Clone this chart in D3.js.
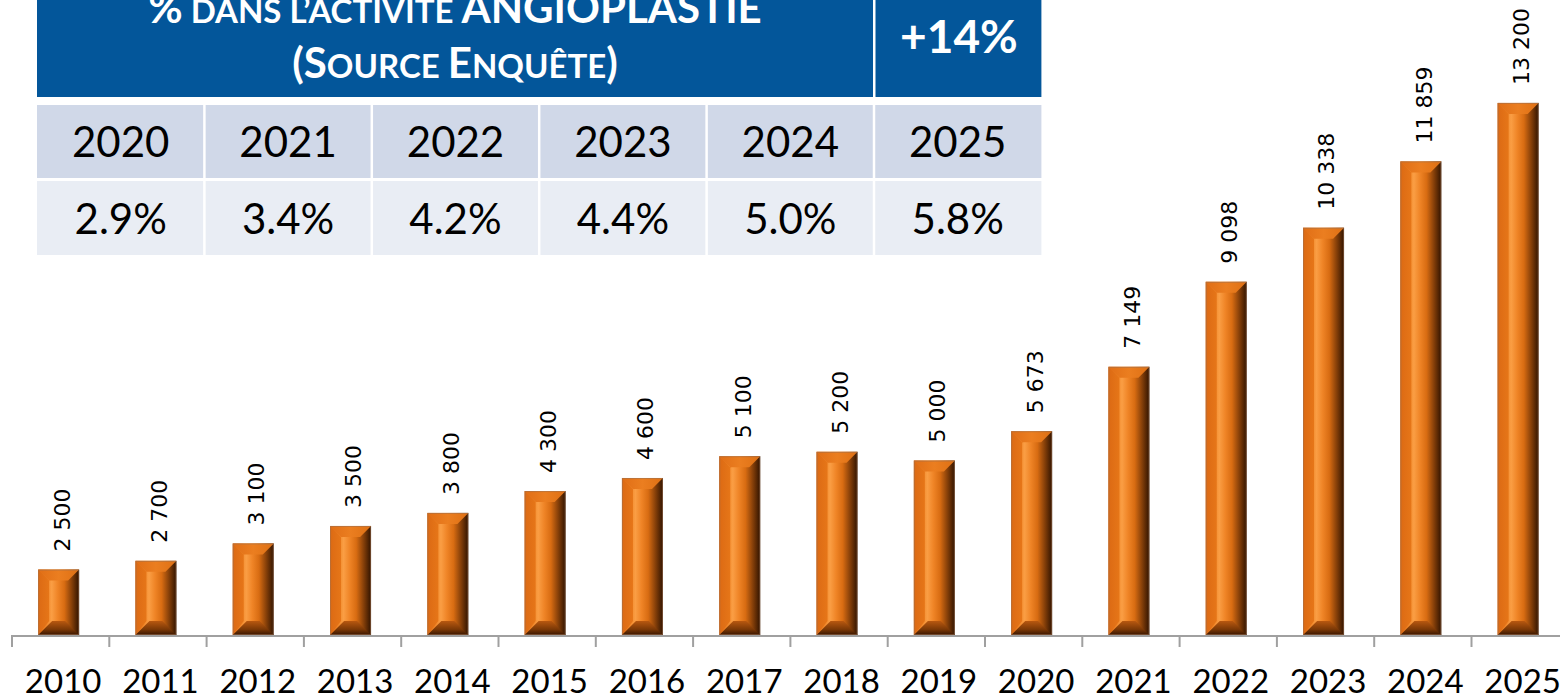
<!DOCTYPE html>
<html>
<head>
<meta charset="utf-8">
<script src="https://cdn.jsdelivr.net/npm/d3@7"></script>
<style>
  html, body { margin: 0; padding: 0; background: #ffffff; }
  svg { display: block; }
</style>
</head>
<body>
<svg id="chart" width="1560" height="700"></svg>
<script>
// ---------- DATA ----------
const years = ["2010","2011","2012","2013","2014","2015","2016","2017","2018","2019","2020","2021","2022","2023","2024","2025"];
const volumes = [2500, 2700, 3100, 3500, 3800, 4300, 4600, 5100, 5200, 5000, 5673, 7149, 9098, 10338, 11859, 13200];
const tableYears = ["2020","2021","2022","2023","2024","2025"];
const tableShares = ["2.9%","3.4%","4.2%","4.4%","5.0%","5.8%"];
const growthLabel = "+14%";
const titleLine1 = [["%", "big"], [" DANS L\u2019ACTIVIT\u00C9 ", "small"], ["ANGIOPLASTIE", "big"]];
const titleLine2 = [["(S", "big"], ["OURCE ", "small"], ["E", "big"], ["NQU\u00CATE", "small"], [")", "big"]];

// ---------- SETUP ----------
const svg = d3.select("#chart");
const fmt = d3.formatLocale({decimal: ",", thousands: "\u00A0", grouping: [3], currency: ["", "€"]}).format(",d");

const baseY = 635;
const step = 97.3;
const x = d3.scaleBand().domain(years).range([12, 12 + step * years.length]).padding(0);
const y = d3.scaleLinear().domain([1000, 14000]).range([baseY, 68]);
const barW = 41;

// gradients
const defs = svg.append("defs");
function lg(id, stops, vertical) {
  const g = defs.append("linearGradient").attr("id", id)
    .attr("x1", "0").attr("y1", "0").attr("x2", vertical ? "0" : "1").attr("y2", vertical ? "1" : "0");
  stops.forEach(([o, c]) => g.append("stop").attr("offset", o).attr("stop-color", c));
}
lg("gMain", [[0, "#E06C14"], [0.2, "#F08628"], [0.33, "#FA9E44"], [0.48, "#EF8426"], [0.64, "#D86C12"], [0.8, "#8E440A"], [1, "#301300"]]);
lg("gTop", [[0, "#E06E16"], [0.5, "#EB7E20"], [1, "#DE7014"]]);
lg("gBot", [[0, "#B85810"], [0.6, "#7A3806"], [1, "#3A1600"]], true);
lg("gLeft", [[0, "#DC6A14"], [1, "#E67618"]]);

// ---------- TABLE ----------
const tblX0 = 37, colW = 167.4, gap = 2.5;
const tbl = svg.append("g");
// header
tbl.append("rect").attr("x", tblX0).attr("y", -30).attr("width", colW * 5 - 1).attr("height", 127).attr("fill", "#03569A");
tbl.append("rect").attr("x", tblX0 + colW * 5 + gap - 1).attr("y", -30).attr("width", colW - gap + 1).attr("height", 127).attr("fill", "#03569A");

const headCx = tblX0 + (colW * 5 - 1) / 2;
function titleLine(parts, yy) {
  const t = tbl.append("text").attr("x", headCx).attr("y", yy).attr("text-anchor", "middle")
    .attr("fill", "#ffffff").attr("font-family", "Lato, 'Open Sans', sans-serif").attr("font-weight", "bold");
  parts.forEach(([s, k]) => t.append("tspan").attr("font-size", k === "big" ? 42 : 33).text(s));
}
titleLine(titleLine1, 23);
titleLine(titleLine2, 78);

tbl.append("text").attr("x", tblX0 + colW * 5 + (colW + gap) / 2).attr("y", 53).attr("text-anchor", "middle")
  .attr("fill", "#ffffff").attr("font-family", "Lato, sans-serif").attr("font-weight", "bold").attr("font-size", 46)
  .text(growthLabel);

// rows
const rowDefs = [{vals: tableYears, y0: 105, h: 73, fill: "#D0D8E8", base: 157},
                 {vals: tableShares, y0: 181, h: 74, fill: "#E9EDF4", base: 234}];
rowDefs.forEach(r => {
  const g = tbl.append("g");
  g.selectAll("rect").data(r.vals).join("rect")
    .attr("x", (d, i) => tblX0 + i * colW + (i > 0 ? gap / 2 : 0))
    .attr("y", r.y0).attr("width", (d, i) => colW - (i > 0 ? gap / 2 : 0) - (i < 5 ? gap / 2 : 0))
    .attr("height", r.h).attr("fill", r.fill);
  g.selectAll("text").data(r.vals).join("text")
    .attr("x", (d, i) => tblX0 + i * colW + colW / 2)
    .attr("y", r.base).attr("text-anchor", "middle")
    .attr("font-family", "Lato, sans-serif").attr("font-size", 42).attr("fill", "#000")
    .text(d => d);
});

// ---------- BARS ----------
const bt_ = 11, bb = 14;
const bars = svg.append("g").selectAll("g").data(years.map((yr, i) => ({yr, v: volumes[i]}))).join("g");
bars.each(function(d) {
  const g = d3.select(this);
  const x0 = x(d.yr) + (x.bandwidth() - barW) / 2 - 2, x1 = x0 + barW;
  const t = y(d.v), bt = baseY;
  g.append("rect").attr("x", x0).attr("y", t).attr("width", barW).attr("height", bt - t).attr("fill", "url(#gMain)");
  g.append("polygon").attr("points", [[x0, t], [x0 + bt_, t + bt_], [x0 + bt_, bt - bb], [x0, bt]].join(" ")).attr("fill", "url(#gLeft)");
  g.append("polygon").attr("points", [[x0, t], [x1, t], [x1 - bt_, t + bt_], [x0 + bt_, t + bt_]].join(" ")).attr("fill", "url(#gTop)");
  g.append("polygon").attr("points", [[x0, bt], [x1, bt], [x1 - bb, bt - bb], [x0 + bb, bt - bb]].join(" ")).attr("fill", "url(#gBot)");
  g.append("rect").attr("x", x0 + 0.5).attr("y", t + 0.5).attr("width", barW - 1).attr("height", bt - t - 1)
    .attr("fill", "none").attr("stroke", "#9A7050").attr("stroke-width", 1).attr("opacity", 0.55);
  // value label
  const cx = x(d.yr) + x.bandwidth() / 2 + 1;
  g.append("text").attr("transform", `translate(${cx},${t - 18}) rotate(-90)`)
    .attr("text-anchor", "start").attr("dy", "0.36em")
    .attr("font-family", "'DejaVu Sans', sans-serif").attr("font-size", 22).attr("fill", "#000")
    .text(fmt(d.v));
});

// ---------- AXIS ----------
const axis = svg.append("g");
axis.append("line").attr("x1", 12).attr("x2", 1560).attr("y1", baseY + 1).attr("y2", baseY + 1)
  .attr("stroke", "#A0A0A0").attr("stroke-width", 2);
axis.selectAll("line.tick").data(years).join("line").attr("class", "tick")
  .attr("x1", d => x(d)).attr("x2", d => x(d)).attr("y1", baseY).attr("y2", baseY + 12)
  .attr("stroke", "#A0A0A0").attr("stroke-width", 2);
axis.selectAll("text").data(years).join("text")
  .attr("x", d => x(d) + x.bandwidth() / 2 + 2.5).attr("y", 693).attr("text-anchor", "middle")
  .attr("font-family", "Lato, sans-serif").attr("font-size", 33).attr("fill", "#000")
  .text(d => d);
</script>
</body>
</html>
